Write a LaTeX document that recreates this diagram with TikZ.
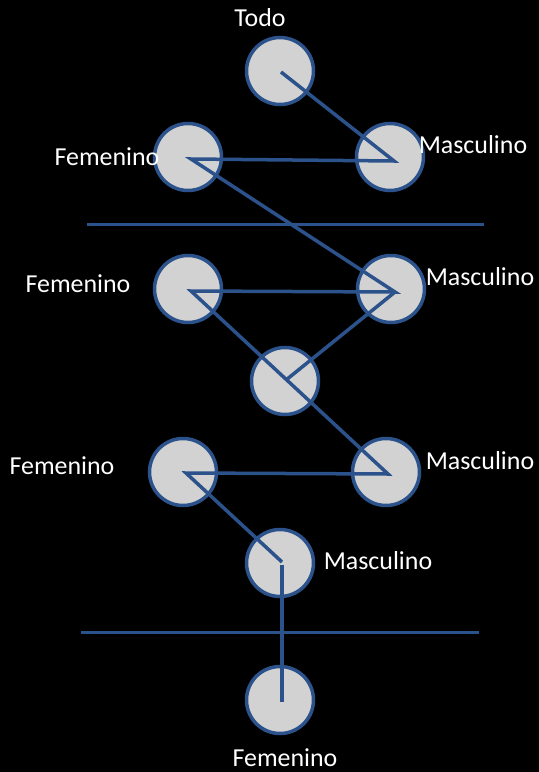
\documentclass[tikz,border=0pt]{standalone}
\usepackage{fontspec}
\setmainfont{Carlito}
\definecolor{lineblue}{RGB}{44,82,140}
\definecolor{circfill}{RGB}{210,210,210}
\tikzset{
  ball/.style={circle, draw=lineblue, line width=3.5bp, fill=circfill, minimum size=67bp, inner sep=0pt},
  conn/.style={draw=lineblue, line width=3.5bp, line join=miter},
  sep/.style={draw=lineblue, line width=3bp},
  lbl/.style={text=white, font=\fontsize{26}{30}\selectfont, inner sep=0pt}
}
\begin{document}
\begin{tikzpicture}[x=1bp,y=-1bp]
\fill[black] (0,0) rectangle (539,772);
\useasboundingbox (0,0) rectangle (539,772);
% separators
\coordinate (s1a) at (87,224); \coordinate (s1b) at (484,224);
\coordinate (s2a) at (81,632); \coordinate (s2b) at (479,632);
\draw[sep] (s1a) -- (s1b);
\draw[sep] (s2a) -- (s2b);
% circles
\node[ball] (todo) at (280,71) {};
\node[ball] (f1) at (188,157) {};
\node[ball] (m1) at (390,157) {};
\node[ball] (f2) at (188,289) {};
\node[ball] (m2) at (391,289) {};
\node[ball] (mid) at (285,381) {};
\node[ball] (f3) at (183,472) {};
\node[ball] (m3) at (386,472) {};
\node[ball] (m4) at (280,563) {};
\node[ball] (f4) at (280,700) {};
% connector points
\coordinate (pt) at (281,72);
\coordinate (pm1) at (394,161);
\coordinate (pf1) at (191,159);
\coordinate (pm2) at (395,292);
\coordinate (pf2) at (191,291);
\coordinate (pmid) at (286,380);
\coordinate (pm3) at (388,474);
\coordinate (pf3) at (186,473);
\coordinate (pm4) at (282,562);
\coordinate (pm4b) at (282,565);
\coordinate (pf4) at (282,702);
% connectors
\draw[conn] (pt) -- (pm1) -- (pf1) -- (pm2) -- (pf2) -- (pm3) -- (pf3) -- (pm4);
\draw[conn] (pm2) -- (pmid);
\draw[conn] (pm4b) -- (pf4);
% labels
\node[lbl] (lt) at (260,18) {Todo};
\node[lbl] (lf1) at (107,157) {Femenino};
\node[lbl] (lm1) at (473,145) {Masculino};
\node[lbl] (lf2) at (78,284) {Femenino};
\node[lbl] (lm2) at (480,277) {Masculino};
\node[lbl] (lf3) at (62,466) {Femenino};
\node[lbl] (lm3) at (480,461) {Masculino};
\node[lbl] (lm4) at (378,561) {Masculino};
\node[lbl] (lf4) at (285,758) {Femenino};
\end{tikzpicture}
\end{document}
